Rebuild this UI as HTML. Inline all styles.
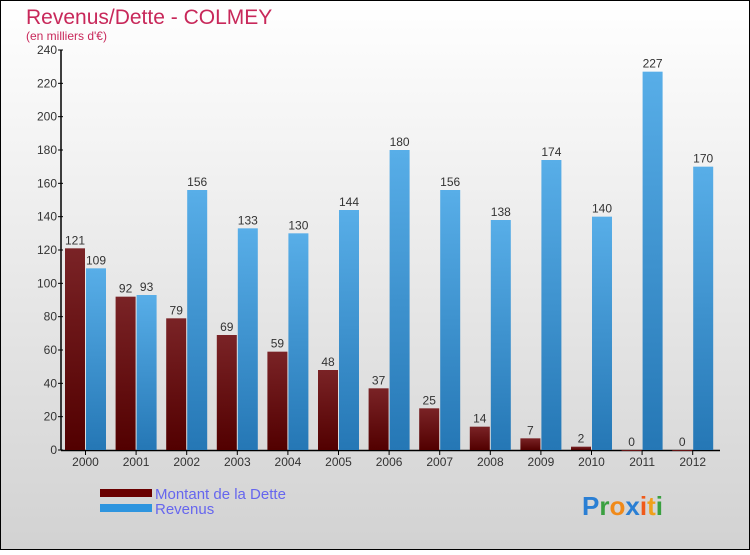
<!DOCTYPE html>
<html><head><meta charset="utf-8"><style>
body{margin:0}
svg text{font-family:"Liberation Sans",sans-serif}
</style></head><body>
<svg width="750" height="550" xmlns="http://www.w3.org/2000/svg">
<defs>
<linearGradient id="bg" x1="0" y1="0" x2="0" y2="1"><stop offset="0" stop-color="#ffffff"/><stop offset="1" stop-color="#d2d2d2"/></linearGradient>
<linearGradient id="gd" x1="0" y1="0" x2="0" y2="1"><stop offset="0" stop-color="#7a2326"/><stop offset="1" stop-color="#520000"/></linearGradient>
<linearGradient id="gr" x1="0" y1="0" x2="0" y2="1"><stop offset="0" stop-color="#58aee8"/><stop offset="1" stop-color="#2577b5"/></linearGradient>
</defs>
<rect x="0.5" y="0.5" width="749" height="549" fill="url(#bg)" stroke="#000"/>
<text x="26" y="24" font-size="21" fill="#c8285a">Revenus/Dette - COLMEY</text>
<text x="26" y="40" font-size="12" fill="#c8285a">(en milliers d'€)</text>
<g id="axes"></g>
<g id="bars"></g>
<rect x="100" y="489" width="52" height="8" fill="#6a0000"/>
<text x="155" y="499" font-size="15" fill="#6666ee">Montant de la Dette</text>
<rect x="100" y="504" width="52" height="8" fill="#2e95df"/>
<text x="155" y="514" font-size="15" fill="#6666ee">Revenus</text>
<text x="582" y="515" font-size="26" font-weight="bold"><tspan fill="#2a7fd4">P</tspan><tspan fill="#3aa040">r</tspan><tspan fill="#f08a1a">o</tspan><tspan fill="#2a7fd4">x</tspan><tspan fill="#f05a1a">i</tspan><tspan fill="#f0a01a">t</tspan><tspan fill="#3aa040">i</tspan></text>
</svg>
<script>
const years=["2000","2001","2002","2003","2004","2005","2006","2007","2008","2009","2010","2011","2012"];
const dette=[121,92,79,69,59,48,37,25,14,7,2,0,0];
const revenus=[109,93,156,133,130,144,180,156,138,174,140,227,170];
const yTicks=[0,20,40,60,80,100,120,140,160,180,200,220,240];
const NS="http://www.w3.org/2000/svg";
const y=v=>450-v*400/240;
const x=i=>65+i*50.6;
function mk(t,a,p){const e=document.createElementNS(NS,t);for(const k in a)e.setAttribute(k,a[k]);p.appendChild(e);return e;}
const ax=document.getElementById('axes'),bg=document.getElementById('bars');
yTicks.forEach(v=>{
 const l=mk('line',{x1:58,x2:63,y1:y(v),y2:y(v),stroke:'#000'},ax);
 
 
 const t=mk('text',{x:57,y:y(v)+4,'font-size':12,'text-anchor':'end',fill:'#333'},ax);t.textContent=v;
 
 
});
const ya=mk('line',{x1:61,x2:61,y1:50,y2:450,stroke:'#000','stroke-width':1.5},ax);


const xa=mk('line',{x1:61,x2:720,y1:450.5,y2:450.5,stroke:'#000','stroke-width':1.5},ax);


years.forEach((yr,i)=>{
 const cx=x(i)+20.5;
 const tk=mk('line',{x1:cx,x2:cx,y1:450,y2:455,stroke:'#000'},ax);
 
 
 const t=mk('text',{x:cx,y:466,'font-size':12,'text-anchor':'middle',fill:'#333'},ax);t.textContent=yr;
 
 
 const d=mk('rect',{x:x(i),y:y(dette[i]),width:20,height:Math.max(450-y(dette[i]),1),fill:'url(#gd)'},bg);
 
 
 const r=mk('rect',{x:x(i)+21,y:y(revenus[i]),width:20,height:450-y(revenus[i]),fill:'url(#gr)'},bg);
 
 
 const dl=mk('text',{x:x(i)+10,y:y(dette[i])-4,'font-size':12,'text-anchor':'middle',fill:'#333'},bg);dl.textContent=dette[i];
 
 
 const rl=mk('text',{x:x(i)+31,y:y(revenus[i])-4,'font-size':12,'text-anchor':'middle',fill:'#333'},bg);rl.textContent=revenus[i];
 
 
});
</script>
</body></html>
